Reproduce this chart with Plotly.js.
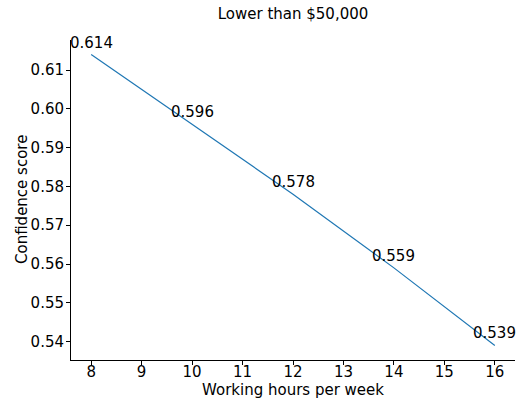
<!DOCTYPE html>
<html>
<head>
<meta charset="utf-8">
<script src="https://cdn.plot.ly/plotly-3.0.1.min.js"></script>
<style>html,body{margin:0;padding:0;background:#fff;}#chart{width:519px;height:400px;}</style>
</head>
<body>
<div id="chart"></div>
<script>
const hours = [8, 10, 12, 14, 16];
const scores = [0.614, 0.596, 0.578, 0.559, 0.539];
const xTicks = [8, 9, 10, 11, 12, 13, 14, 15, 16];
const yTicks = [0.54, 0.55, 0.56, 0.57, 0.58, 0.59, 0.60, 0.61];
const titleText = 'Lower than $50,000';
const xTitle = 'Working hours per week';
const yTitle = 'Confidence score';

const font = {family: 'DejaVu Sans, sans-serif', size: 15, color: '#000'};
const ymin = Math.min(...scores), ymax = Math.max(...scores);
const ypad = (ymax - ymin) * 0.05;
const xmin = Math.min(...hours), xmax = Math.max(...hours);
const xpad = (xmax - xmin) * 0.05;

const trace = {
  x: hours, y: scores, type: 'scatter', mode: 'lines',
  line: {color: '#1f77b4', width: 1.2}, hoverinfo: 'skip'
};

const annotations = hours.map((h, i) => ({
  x: h, y: scores[i], xref: 'x', yref: 'y',
  text: scores[i].toFixed(3), showarrow: false,
  xanchor: 'center', yanchor: 'bottom', yshift: 1,
  font: font
}));
annotations.push({
  x: 0.5, y: 0, xref: 'paper', yref: 'paper', text: xTitle,
  showarrow: false, xanchor: 'center', yanchor: 'middle', yshift: -30, font: font
});
annotations.push({
  x: 0, y: 0.5, xref: 'paper', yref: 'paper', text: yTitle, textangle: -90,
  showarrow: false, xanchor: 'center', yanchor: 'middle', xshift: -49, font: font
});

const layout = {
  width: 519, height: 400,
  margin: {l: 71, r: 4, t: 40, b: 40},
  paper_bgcolor: '#fff', plot_bgcolor: '#fff',
  showlegend: false,
  font: font,
  title: {text: titleText, font: font, x: 0.5646, xanchor: 'center', y: 0.965, yanchor: 'middle'},
  xaxis: {
    range: [xmin - xpad, xmax + xpad],
    tickvals: xTicks, ticktext: xTicks.map(String),
    showgrid: false, zeroline: false,
    showline: true, linecolor: '#000', linewidth: 1,
    ticks: 'outside', ticklen: 4, tickcolor: '#000', tickwidth: 1,
    tickfont: font, ticklabelstandoff: -6
  },
  yaxis: {
    range: [ymin - ypad, ymax + ypad],
    tickvals: yTicks, ticktext: yTicks.map(v => v.toFixed(2)),
    showgrid: false, zeroline: false,
    showline: true, linecolor: '#000', linewidth: 1,
    ticks: 'outside', ticklen: 4, tickcolor: '#000', tickwidth: 1,
    tickfont: font, ticklabelstandoff: -1
  },
  annotations: annotations
};

Plotly.newPlot('chart', [trace], layout, {displayModeBar: false, staticPlot: true});
</script>
</body>
</html>
